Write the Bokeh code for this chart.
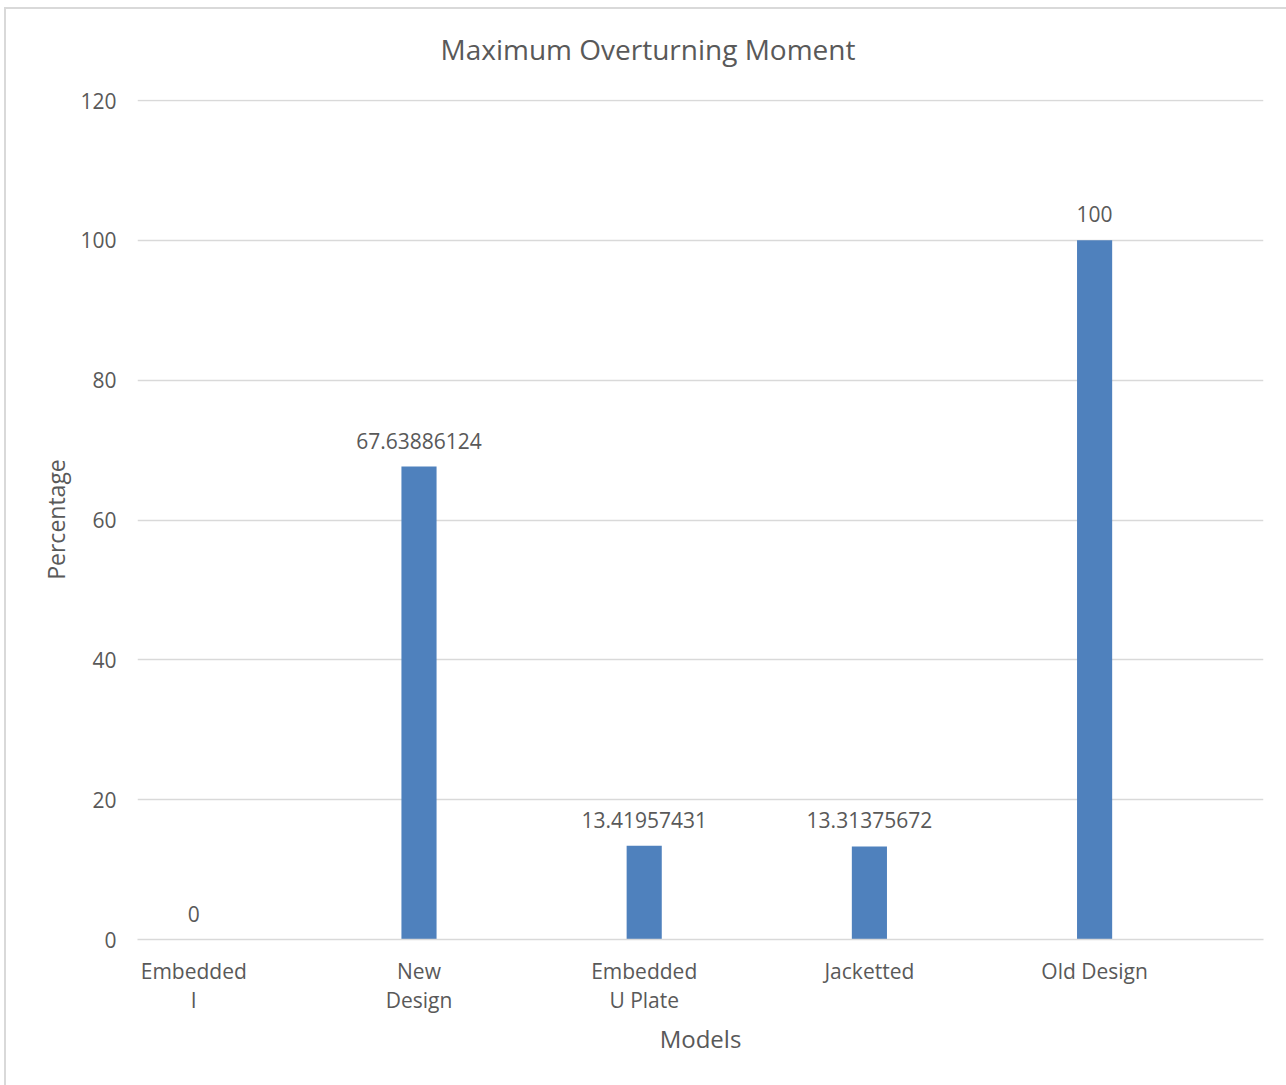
from bokeh.plotting import figure
from bokeh.models import ColumnDataSource, FixedTicker
from bokeh.core.properties import value
from bokeh.embed import file_html
from bokeh.resources import INLINE

models = ["Embedded\nI", "New\nDesign", "Embedded\nU Plate", "Jacketted", "Old Design"]
percentage = [0, 67.63886124, 13.41957431, 13.31375672, 100]
value_labels = ["0", "67.63886124", "13.41957431", "13.31375672", "100"]
y_ticks = [0, 20, 40, 60, 80, 100, 120]

FONT = "Open Sans"
TXT = "#595959"
BAR = "#4F81BD"
GRID = "#d9d9d9"

pos = list(range(len(models)))
src = ColumnDataSource(dict(x=pos, top=percentage, lab=value_labels))

p = figure(width=1286, height=1085, x_range=(-0.25, len(models) - 0.25),
           y_range=(0, 120.15), output_backend="svg", toolbar_location=None,
           min_border_left=137, min_border_right=23, min_border_top=99, min_border_bottom=146)
p.styles = {
    "background": ("linear-gradient(#d9d9d9,#d9d9d9) 4px 7px / 2px calc(100% - 7px) no-repeat, "
                   "linear-gradient(#d9d9d9,#d9d9d9) 4px 7px / calc(100% - 4px) 2px no-repeat")
}
p.border_fill_color = None
p.outline_line_color = None
p.background_fill_color = "white"

p.vbar(x="x", top="top", width=0.156, source=src, fill_color=BAR, line_color=None)
p.text(x="x", y="top", text="lab", source=src, text_align="center", text_baseline="bottom",
       y_offset=-18, text_font=value(FONT), text_font_size="21px", text_color=TXT)

p.yaxis.ticker = FixedTicker(ticks=y_ticks)
p.xaxis.ticker = FixedTicker(ticks=pos)
p.xaxis.major_label_overrides = {i: m for i, m in zip(pos, models)}
p.ygrid.grid_line_color = GRID
p.ygrid.grid_line_width = 1.5
p.xgrid.grid_line_color = None

for ax in (p.xaxis[0], p.yaxis[0]):
    ax.major_tick_line_color = None
    ax.minor_tick_line_color = None
    ax.major_label_text_font = FONT
    ax.major_label_text_font_size = "21px"
    ax.major_label_text_color = TXT
    ax.axis_label_text_font = FONT
    ax.axis_label_text_color = TXT
    ax.axis_label_text_font_style = "normal"

p.yaxis.axis_label_text_font_size = "23px"
p.xaxis.axis_label_text_font_size = "24px"
p.xaxis.major_label_text_line_height = 1.05
p.yaxis.axis_line_color = None
p.xaxis.axis_line_color = GRID
p.xaxis.axis_line_width = 1.5
p.yaxis.major_label_standoff = 15
p.yaxis.axis_label = "Percentage"
p.yaxis.axis_label_standoff = 5
p.xaxis.major_label_standoff = 11
p.xaxis.axis_label = "Models"
p.xaxis.axis_label_standoff = 5

p.title.text = "Maximum Overturning Moment"
p.title.align = "left"
p.title.vertical_align = "top"
p.title.offset = 303
p.title.standoff = 59
p.title.text_font = FONT
p.title.text_font_size = "28px"
p.title.text_font_style = "normal"
p.title.text_color = TXT

open("out.html", "w").write(file_html(p, INLINE))
